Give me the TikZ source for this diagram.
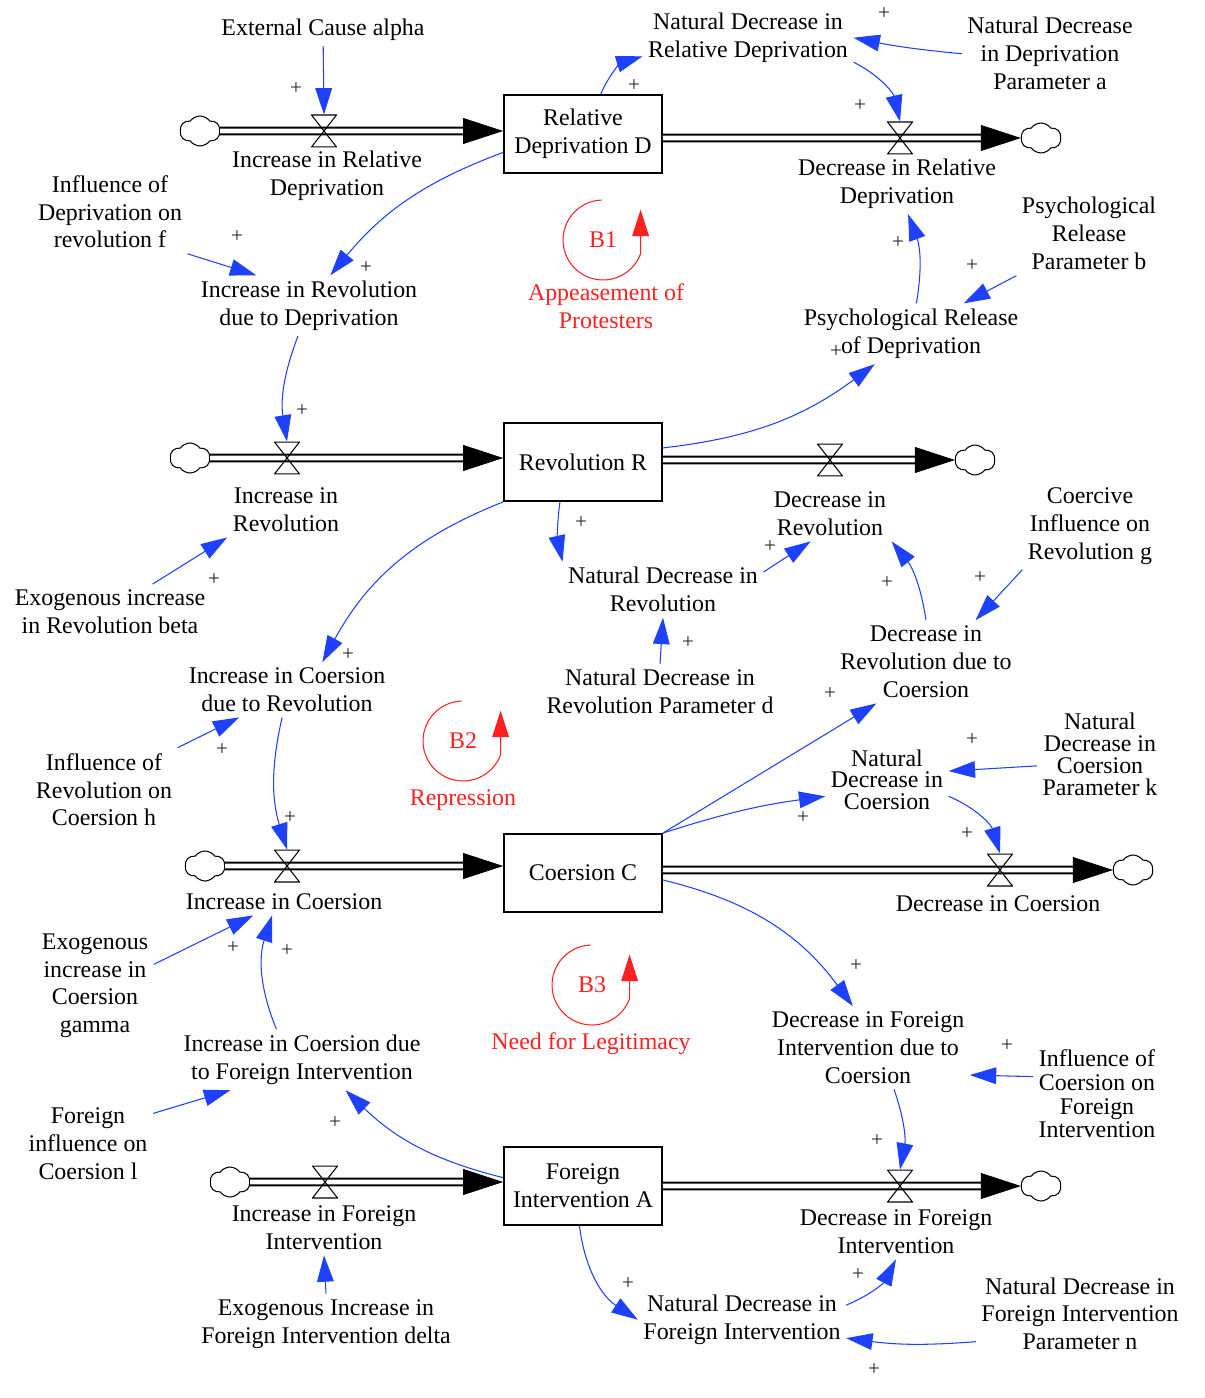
\documentclass[tikz,border=0pt]{standalone}
\usepackage{fontspec}
\setmainfont{Liberation Serif}
\usetikzlibrary{arrows.meta, calc, shapes.symbols}
\definecolor{vblue}{HTML}{1E40FF}
\definecolor{vred}{HTML}{FF2020}
\newcommand{\vfont}{\fontsize{13.6}{15.9}\selectfont}

\tikzset{
  var/.style={align=center, font=\vfont, inner sep=3pt, yshift=-1pt},
  stock/.style={draw, line width=1.1pt, minimum width=3.16cm, minimum height=1.56cm,
    align=center, font=\vfont, inner sep=2pt},
  pipe/.style={draw=black, double=white, line width=1.1pt, double distance=2.8pt},
  pipetip/.style={-{Triangle[length=0.8cm, width=0.52cm]}, line width=0.4pt},
  valve/.style={minimum width=0.52cm, minimum height=0.66cm, inner sep=0pt, outer sep=0pt,
    path picture={\draw[line width=0.6pt]
      ([shift={(0.3pt,-0.3pt)}]path picture bounding box.north west) --
      ([shift={(-0.3pt,-0.3pt)}]path picture bounding box.north east) --
      ([shift={(0.3pt,0.3pt)}]path picture bounding box.south west) --
      ([shift={(-0.3pt,0.3pt)}]path picture bounding box.south east) -- cycle;}},
  cloudy/.style={cloud, cloud puffs=6, cloud puff arc=110, aspect=1.3, draw,
    line width=0.6pt, fill=white, minimum width=0.8cm, minimum height=0.6cm, inner sep=0pt},
  link/.style={vblue, line width=0.6pt, -{Triangle[length=15pt, width=9.5pt]}},
  pol/.style={font=\fontsize{12}{13}\selectfont, text=black!85, inner sep=0pt},
  loopc/.style={vred, line width=0.6pt, -{Triangle[length=15pt, width=9.5pt]}},
  looplab/.style={align=center, font=\vfont, text=vred, inner sep=1pt}
}

\begin{document}
\begin{tikzpicture}[x=0.02cm, y=-0.02cm]
  \useasboundingbox (0,0) rectangle (1204,1398);

  %% stocks
  \node[stock] (rd) at (583,134) {Relative\\Deprivation D};
  \node[stock] (rev) at (583,462) {Revolution R};
  \node[stock] (coe) at (583,873) {Coersion C};
  \node[stock] (fi) at (583,1186) {Foreign\\Intervention A};

  %% flows: source cloud -> valve -> stock -> valve -> sink cloud
  \foreach \s/\ya/\yb/\xa/\va/\vb/\xb in {rd/131/138/200/324/900/1041,
      rev/458/460/190/287/830/975, coe/866/870/205/287/1000/1133,
      fi/1182/1186/230/325/900/1041}{
    \node[cloudy] (\s-src) at (\xa,\ya) {};
    \node[cloudy] (\s-snk) at (\xb,\yb) {};
    \draw[pipe] (\s-src.east) -- ($(\s.west |- \s-src)+(-40,0)$);
    \draw[pipetip] ($(\s.west |- \s-src)+(-40,0)$) -- (\s.west |- \s-src);
    \draw[pipe] (\s.east |- \s-snk) -- ($(\s-snk.west)+(-40,0)$);
    \draw[pipetip] ($(\s-snk.west)+(-40,0)$) -- (\s-snk.west);
    \node[valve] (\s-in) at (\va,\ya) {};
    \node[valve] (\s-out) at (\vb,\yb) {};
  }

  %% flow names
  \node[var] (ird) at (327,174) {Increase in Relative\\Deprivation};
  \node[var] (drd) at (897,182) {Decrease in Relative\\Deprivation};
  \node[var] (ir) at (286,508) {Increase in\\Revolution};
  \node[var] (dr) at (830,512) {Decrease in\\Revolution};
  \node[var] (ic) at (284,900) {Increase in Coersion};
  \node[var] (dc) at (998,902) {Decrease in Coersion};
  \node[var] (ifi) at (324,1226) {Increase in Foreign\\Intervention};
  \node[var] (dfi) at (896,1230) {Decrease in Foreign\\Intervention};

  %% auxiliaries and parameters
  \node[var] (alpha) at (323,28) {External Cause alpha};
  \node[var] (ndrd) at (748,36) {Natural Decrease in\\Relative Deprivation};
  \node[var] (npa) at (1050,52) {Natural Decrease\\in Deprivation\\Parameter a};
  \node[var] (infd) at (110,210) {Influence of\\Deprivation on\\revolution f};
  \node[var] (irdd) at (309,304) {Increase in Revolution\\due to Deprivation};
  \node[var] (prb) at (1089,232) {Psychological\\Release\\Parameter b};
  \node[var] (prd) at (911,332) {Psychological Release\\of Deprivation};
  \node[var] (cig) at (1090,524) {Coercive\\Influence on\\Revolution g};
  \node[var] (ndr) at (663,588) {Natural Decrease in\\Revolution};
  \node[var] (beta) at (110,610) {Exogenous increase\\in Revolution beta};
  \node[var] (drc) at (926,660) {Decrease in\\Revolution due to\\Coersion};
  \node[var] (ndrp) at (660,690) {Natural Decrease in\\Revolution Parameter d};
  \node[var] (icr) at (287,688) {Increase in Coersion\\due to Revolution};
  \node[var] (infh) at (104,788) {Influence of\\Revolution on\\Coersion h};
  \node[var, font=\fontsize{13.6}{12}\selectfont] (ndc) at (887,778) {Natural\\Decrease in\\Coersion};
  \node[var, font=\fontsize{13.6}{12.5}\selectfont] (ndck) at (1100,753) {Natural\\Decrease in\\Coersion\\Parameter k};
  \node[var] (gamma) at (95,984) {Exogenous\\increase in\\Coersion\\gamma};
  \node[var] (dfic) at (868,1046) {Decrease in Foreign\\Intervention due to\\Coersion};
  \node[var] (icfi) at (302,1058) {Increase in Coersion due\\to Foreign Intervention};
  \node[var, font=\fontsize{13.6}{13.6}\selectfont] (icfo) at (1097,1092) {Influence of\\Coersion on\\Foreign\\Intervention};
  \node[var] (fil) at (88,1142) {Foreign\\influence on\\Coersion l};
  \node[var] (ndfi) at (742,1318) {Natural Decrease in\\Foreign Intervention};
  \node[var] (ndfin) at (1080,1312) {Natural Decrease in\\Foreign Intervention\\Parameter n};
  \node[var] (delta) at (326,1322) {Exogenous Increase in\\Foreign Intervention delta};

  %% feedback loops
  \node[looplab] (b1) at (603,240) {B1};
  \node[looplab] (b1lab) at (606,306) {Appeasement of\\Protesters};
  \node[looplab] (b2) at (463,741) {B2};
  \node[looplab] (b2lab) at (463,800) {Repression};
  \node[looplab] (b3) at (592,985) {B3};
  \node[looplab] (b3lab) at (591,1044) {Need for Legitimacy};
  \foreach \b in {b1,b2,b3}{
    \draw[loopc] ([shift={(92:0.8cm)}]\b.center) arc[start angle=92, end angle=340, radius=0.8cm] -- ++(0,-44);
  }

  %% causal links
  \draw[link] (alpha) -- (rd-in.north);
  \draw[link] (rd.66) to[bend left=25] (ndrd.190);
  \draw[link] (npa.west) to[bend left=3] (ndrd.east);
  \draw[link] (ndrd.-13) to[bend left=25] (rd-out.north);
  \draw[link] (prd.80) to[bend right=15] (drd.-70);
  \draw[link] (prb.south west) -- (prd.30);
  \draw[link] (rev.10) to[bend right=15] (prd.-140);
  \draw[link] (rd.-167) to[bend right=15] (irdd.55);
  \draw[link] (infd.south east) -- (irdd.150);
  \draw[link] (irdd.-110) to[bend right=15] (rev-in.north);
  \draw[link] (beta.33) -- (ir.south west);
  \draw[link] (rev.-120) to[bend right=10] (ndr.north west);
  \draw[link] (ndr.10) -- (dr.-125);
  \draw[link] (ndrp.north) -- (ndr.south);
  \draw[link] (cig.south west) -- (drc.40);
  \draw[link] (drc.north) to[bend right=15] (dr.south east);
  \draw[link] (rev.south west) to[bend right=20] (icr.38);
  \draw[link] (infh.north east) -- (icr.-150);
  \draw[link] (icr.-100) to[bend right=15] (coe-in.north);
  \draw[link] (gamma.20) -- (ic.-156);
  \draw[link] (icfi.130) to[bend left=20] (ic.-131);
  \draw[link] (fil.25) -- (icfi.-157);
  \draw[link] (fi.174) to[bend left=15] (icfi.-35);
  \draw[link] (delta.north) -- (ifi.south);
  \draw[link] (fi.-95) to[bend right=25] (ndfi.west);
  \draw[link] (ndfi.8) to[bend right=20] (dfi.south);
  \draw[link] (ndfin.-165) to[bend left=6] (ndfi.-10);
  \draw[link] (coe.-5) to[bend left=20] (dfic.110);
  \draw[link] (dfic.-58) to[bend left=15] (fi-out.north);
  \draw[link] (icfo.165) -- (dfic.-15);
  \draw[link] (coe.north east) to[bend left=5] (ndc.-165);
  \draw[link] (coe.north east) -- (drc.-140);
  \draw[link] (ndck.-170) -- (ndc.8);
  \draw[link] (ndc.-15) to[bend left=25] (coe-out.north);

  %% polarities
  \foreach \x/\y [count=\i] in {296/89, 634/86, 884/14, 860/106, 898/243, 972/266,
      836/352, 237/237, 366/268, 302/411, 214/580, 581/523, 770/547, 688/643,
      980/578, 887/583, 348/655, 222/750, 290/818, 830/694, 803/818, 972/740,
      967/834, 233/948, 287/951, 335/1123, 856/966, 877/1141, 1007/1046,
      628/1284, 858/1275, 874/1370}{
    \node[pol] (p\i) at (\x,\y) {+};
  }

\end{tikzpicture}
\end{document}
